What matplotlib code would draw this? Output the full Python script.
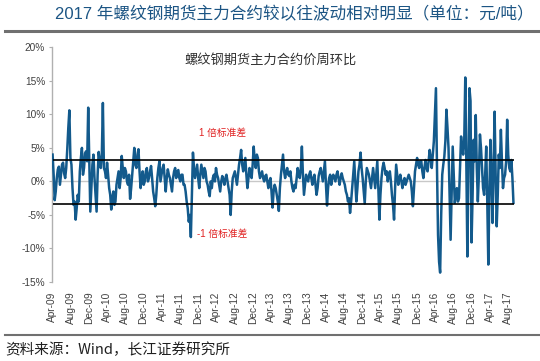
import matplotlib
matplotlib.use("Agg")
import matplotlib.pyplot as plt
import pandas as pd

plt.rcParams['font.family'] = ['Liberation Sans', 'Noto Sans CJK SC', 'DejaVu Sans']

title = "2017 年螺纹钢期货主力合约较以往波动相对明显（单位：元/吨）"
inner_title = "螺纹钢期货主力合约价周环比"
source = "资料来源：Wind，长江证券研究所"
upper_label = "1 倍标准差"
lower_label = "-1 倍标准差"

start_date = "2009-04-03"
step_days = 7

values = [
    4.0, 1.0, -2.8, -1.5, 0.5, 1.8, 2.2, -0.5, 1.0, 2.5, 2.8, 1.2, 0.5, 2.0, 4.8, 8.0, 10.6, 3.5, 2.5, -1.0,
    -3.5, -3.0, -5.7, -4.0, -2.0, -3.0, 1.5, 3.5, 5.0, 1.0, 2.0, 4.2, 4.5, 3.0, 11.0, 3.0, -4.5, -1.0, 2.5, 4.0,
    0.5, -2.0, -4.5, 1.0, 4.4, 3.0, 2.0, 4.0, 11.7, 2.0, 1.5, 0.5, 2.8, 1.0, -1.0, -2.0, -4.2, -2.5, -1.5, -3.5,
    -3.0, -0.5, 0.5, 1.5, -1.0, 0.5, 3.8, 2.0, 0.5, 2.0, 1.5, 0.0, -0.5, 1.0, -2.6, -1.0, 1.0, 3.0, 5.0, 2.5,
    2.0, 4.0, 4.8, 1.5, -1.0, 0.5, 1.5, -0.5, 0.0, 1.5, 2.0, 0.0, 0.5, 1.5, 2.3, 0.5, -1.5, -2.5, -3.7, -2.0,
    0.5, 2.0, 3.0, 0.0, 1.0, 2.0, 2.5, 0.5, -1.5, 0.5, 1.8, 1.0, 0.5, -0.5, -1.5, 0.5, 1.5, 2.0, 0.5, 1.5,
    1.7, 0.5, 0.0, 1.0, 1.0, -0.5, -0.5, -1.5, -3.0, -4.0, -6.0, -5.0, -8.3, -2.0, 4.3, 2.0, 0.5, 1.5, 2.5, 0.5,
    -1.0, 1.0, 2.5, 1.5, 0.5, 2.0, 1.5, 0.0, -0.5, -1.5, -2.2, 0.0, -1.0, 0.5, 1.0, 0.0, 2.0, 1.0, 0.5, -0.5,
    -1.5, 0.0, 0.8, 0.2, -0.5, 0.5, 1.0, 0.0, -1.0, -2.0, -5.0, -1.5, 0.5, 1.0, 1.5, 0.5, -0.5, 1.0, 2.5, 3.5,
    4.7, 2.5, 1.5, 2.5, 3.5, 1.0, -1.0, 0.5, 2.0, 1.0, 0.5, 2.5, 5.2, 3.0, 2.0, 4.0, 3.5, 1.5, 0.5, 1.0,
    1.5, 0.5, 0.0, 0.8, 1.0, 0.0, -1.0, 0.0, 0.5, -1.5, -3.9, -1.5, -0.5, -1.0, -2.0, -3.0, -4.4, -1.0, 1.0, 2.5,
    4.0, 1.5, 0.5, 1.5, 2.0, 1.0, 0.8, 1.5, 0.0, -1.0, -1.5, -0.5, -1.0, 0.5, 2.0, 1.0, 0.5, 2.0, 5.2, 1.0,
    -2.0, -0.5, 1.0, 0.5, 0.0, 1.0, 1.5, 0.5, -0.5, 0.5, 1.0, -0.5, -2.0, -1.0, 0.8, 1.5, 2.0, 1.0, 0.0, 1.5,
    3.0, -0.5, -3.6, -1.0, 0.5, 1.0, -0.5, 0.5, 1.0, 0.5, 0.0, 1.0, 1.5, 0.5, -0.5, 0.5, 1.2, 0.5, 0.0, -0.5,
    -1.5, -2.0, -3.0, -2.5, -4.7, -3.0, -1.0, 1.0, 3.0, 0.0, -3.0, -1.0, 1.5, 2.5, 4.3, 2.0, 0.5, -1.5, -3.3, 0.0,
    2.0, 1.5, 1.0, 0.0, -1.0, 0.5, 2.0, 0.5, -1.0, 1.0, 3.0, -1.0, -5.7, -2.0, 0.5, 2.0, 2.8, 2.0, 1.0, 1.5,
    0.0, 1.0, 1.5, 0.0, -2.0, -3.5, -5.7, -1.0, 2.5, 1.0, -0.5, 0.5, 1.0, 0.0, -1.0, 0.0, 0.5, -0.5, 0.0, 0.5,
    1.0, 0.5, 0.0, -1.5, -3.7, -1.0, 1.5, 2.5, 3.5, 2.5, 2.0, 3.0, 3.0, 1.5, 0.5, 2.0, 3.2, 2.0, 1.5, 3.0,
    4.7, 3.5, 2.0, 4.0, 6.0, 10.0, 13.9, 2.0, -8.0, -12.0, -13.6, -5.0, 1.0, 2.5, 3.7, 6.0, 10.7, 8.0, 5.0, -2.0,
    -8.7, -2.0, 5.2, 1.0, -3.2, -2.0, -1.0, -3.0, -2.5, 2.0, 6.7, 5.0, 4.0, 6.0, 15.5, 3.0, -11.2, 2.0, 13.9, 12.0,
    -9.1, -2.0, 6.2, 3.0, 9.9, 2.0, -3.0, 1.0, 7.0, 5.0, 2.0, -1.0, -2.0, 1.0, 5.2, -3.0, -12.4, -2.0, 6.2, 1.0,
    -6.2, 2.0, 10.4, 1.0, -6.7, -2.0, 4.0, 2.0, 7.7, 3.0, -1.0, 0.5, 1.0, 3.0, 9.2, 4.0, 2.0, 1.5, 3.2, 0.5, -3.2,
]

upper_std = 3.2
lower_std = -3.4

y_ticks = [-15, -10, -5, 0, 5, 10, 15, 20]
x_tick_labels = ["Apr-09", "Aug-09", "Dec-09", "Apr-10", "Aug-10", "Dec-10",
                 "Apr-11", "Aug-11", "Dec-11", "Apr-12", "Aug-12", "Dec-12",
                 "Apr-13", "Aug-13", "Dec-13", "Apr-14", "Aug-14", "Dec-14",
                 "Apr-15", "Aug-15", "Dec-15", "Apr-16", "Aug-16", "Dec-16",
                 "Apr-17", "Aug-17"]

dates = pd.date_range(start_date, periods=len(values), freq=f"{step_days}D")
tick_dates = [pd.to_datetime(lbl, format="%b-%y") for lbl in x_tick_labels]

fig = plt.figure(figsize=(5.40, 3.61), dpi=100)
ax = fig.add_axes([52/540, 1 - 282/361, (516-52)/540, (282-47.3)/361])

ax.axhline(0, color='#c8c8c8', lw=1.0, zorder=1)
ax.plot(dates, values, color='#135a8c', lw=1.8, zorder=3)
ax.hlines([upper_std, lower_std], dates[0], dates[-1] + pd.Timedelta(days=4),
          color='black', lw=1.2, zorder=4)

ax.set_ylim(-15, 20)
ax.set_xlim(pd.Timestamp("2009-03-30"), pd.Timestamp("2017-09-25"))
ax.set_yticks(y_ticks)
ax.set_yticklabels([f"{v}%" for v in y_ticks], fontsize=7.3, color='#404040')
ax.set_xticks(tick_dates)
ax.set_xticklabels(x_tick_labels, rotation=90, fontsize=7.3, color='#404040')
ax.tick_params(axis='x', length=0, pad=7)
ax.tick_params(axis='y', length=2, width=0.8, color='#b0b0b0', pad=3)
for s in ['top', 'right', 'bottom']:
    ax.spines[s].set_visible(False)
ax.spines['left'].set_color('#b0b0b0')
ax.spines['left'].set_linewidth(1.0)

ax.text(0.47, 0.945, inner_title, transform=ax.transAxes, ha='center', va='center',
        fontsize=9.5, color='#303030', family=['Noto Sans CJK SC'])
ax.text(pd.Timestamp("2011-12-07"), 7.25, upper_label, ha='left', va='center',
        fontsize=7, color='#e02020', family=['Liberation Sans', 'Noto Sans CJK SC'])
ax.text(pd.Timestamp("2011-11-25"), -7.9, lower_label, ha='left', va='center',
        fontsize=7, color='#e02020', family=['Liberation Sans', 'Noto Sans CJK SC'])

fig.text(294/540, 1 - 14/361, title, ha='center', va='center', fontsize=12,
         color='#1c5584', family=['Liberation Sans', 'Noto Sans CJK SC'])
fig.add_artist(plt.Line2D([5/540, 1.0], [1 - 31/361, 1 - 31/361], color='#707070', lw=2.2))
fig.add_artist(plt.Line2D([5/540, 1.0], [1 - 335/361, 1 - 335/361], color='#707070', lw=1.5))
fig.text(5/540, 1 - 350/361, source, ha='left', va='center', fontsize=10.5,
         color='#202020', family=['Noto Sans CJK SC', 'Liberation Sans'])

fig.savefig("out.png", dpi=100)
